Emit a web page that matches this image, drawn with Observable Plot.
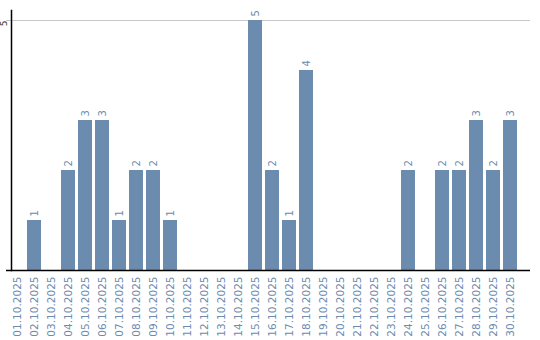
<!DOCTYPE html>
<html>
<head>
<meta charset="utf-8">
<script src="https://cdn.jsdelivr.net/npm/d3@7"></script>
<script src="https://cdn.jsdelivr.net/npm/@observablehq/plot@0.6"></script>
<style>
  html, body { margin: 0; padding: 0; background: #fff; }
  #chart svg { display: block; }
</style>
</head>
<body>
<div id="chart"></div>
<script>
const dates = [
  "01.10.2025","02.10.2025","03.10.2025","04.10.2025","05.10.2025",
  "06.10.2025","07.10.2025","08.10.2025","09.10.2025","10.10.2025",
  "11.10.2025","12.10.2025","13.10.2025","14.10.2025","15.10.2025",
  "16.10.2025","17.10.2025","18.10.2025","19.10.2025","20.10.2025",
  "21.10.2025","22.10.2025","23.10.2025","24.10.2025","25.10.2025",
  "26.10.2025","27.10.2025","28.10.2025","29.10.2025","30.10.2025"
];
const counts = [0,1,0,2,3,3,1,2,2,1,0,0,0,0,5,2,1,4,0,0,0,0,0,2,0,2,2,3,2,3];
const yTicks = [5];

const data = dates.map((d, i) => ({date: d, count: counts[i]}));
const barColor = "#6b8cae";
const labelColor = "#6b8cae";

const chart = Plot.plot({
  width: 540,
  height: 340,
  marginTop: 10,
  marginLeft: 8.5,
  marginRight: 21.5,
  marginBottom: 70,
  style: {fontFamily: "DejaVu Sans", fontSize: "10px", background: "#fff"},
  x: {domain: dates, paddingInner: 0.18, paddingOuter: 0.09, align: 0.5, label: null},
  y: {domain: [0, 5], range: [270, 20], label: null, axis: null},
  marks: [
    Plot.ruleY(yTicks, {stroke: "#c8c8c8", strokeWidth: 1, insetLeft: -2.5, insetRight: -11.5}),
    Plot.barY(data, {x: "date", y: "count", fill: barColor}),
    Plot.text(data.filter(d => d.count > 0), {
      x: "date", y: "count", text: d => String(d.count),
      rotate: -90, textAnchor: "start", dy: -4, fill: labelColor, fontSize: 10
    }),
    Plot.axisX({tickSize: 0, tickPadding: 6, tickRotate: -90, fill: labelColor, fontSize: 10.5, label: null}),
    Plot.text(yTicks, {
      y: d => d, text: d => String(d), frameAnchor: "left", dx: -4.5, dy: 3,
      rotate: -90, textAnchor: "middle", fill: "#333", fontSize: 9
    }),
    Plot.ruleY([0], {stroke: "#000", strokeWidth: 1.5, insetLeft: -2.5, insetRight: -11.5}),
    Plot.frame({anchor: "left", stroke: "#000", strokeWidth: 1.5, dx: 2.5})
  ]
});
document.getElementById("chart").appendChild(chart);
</script>
</body>
</html>
